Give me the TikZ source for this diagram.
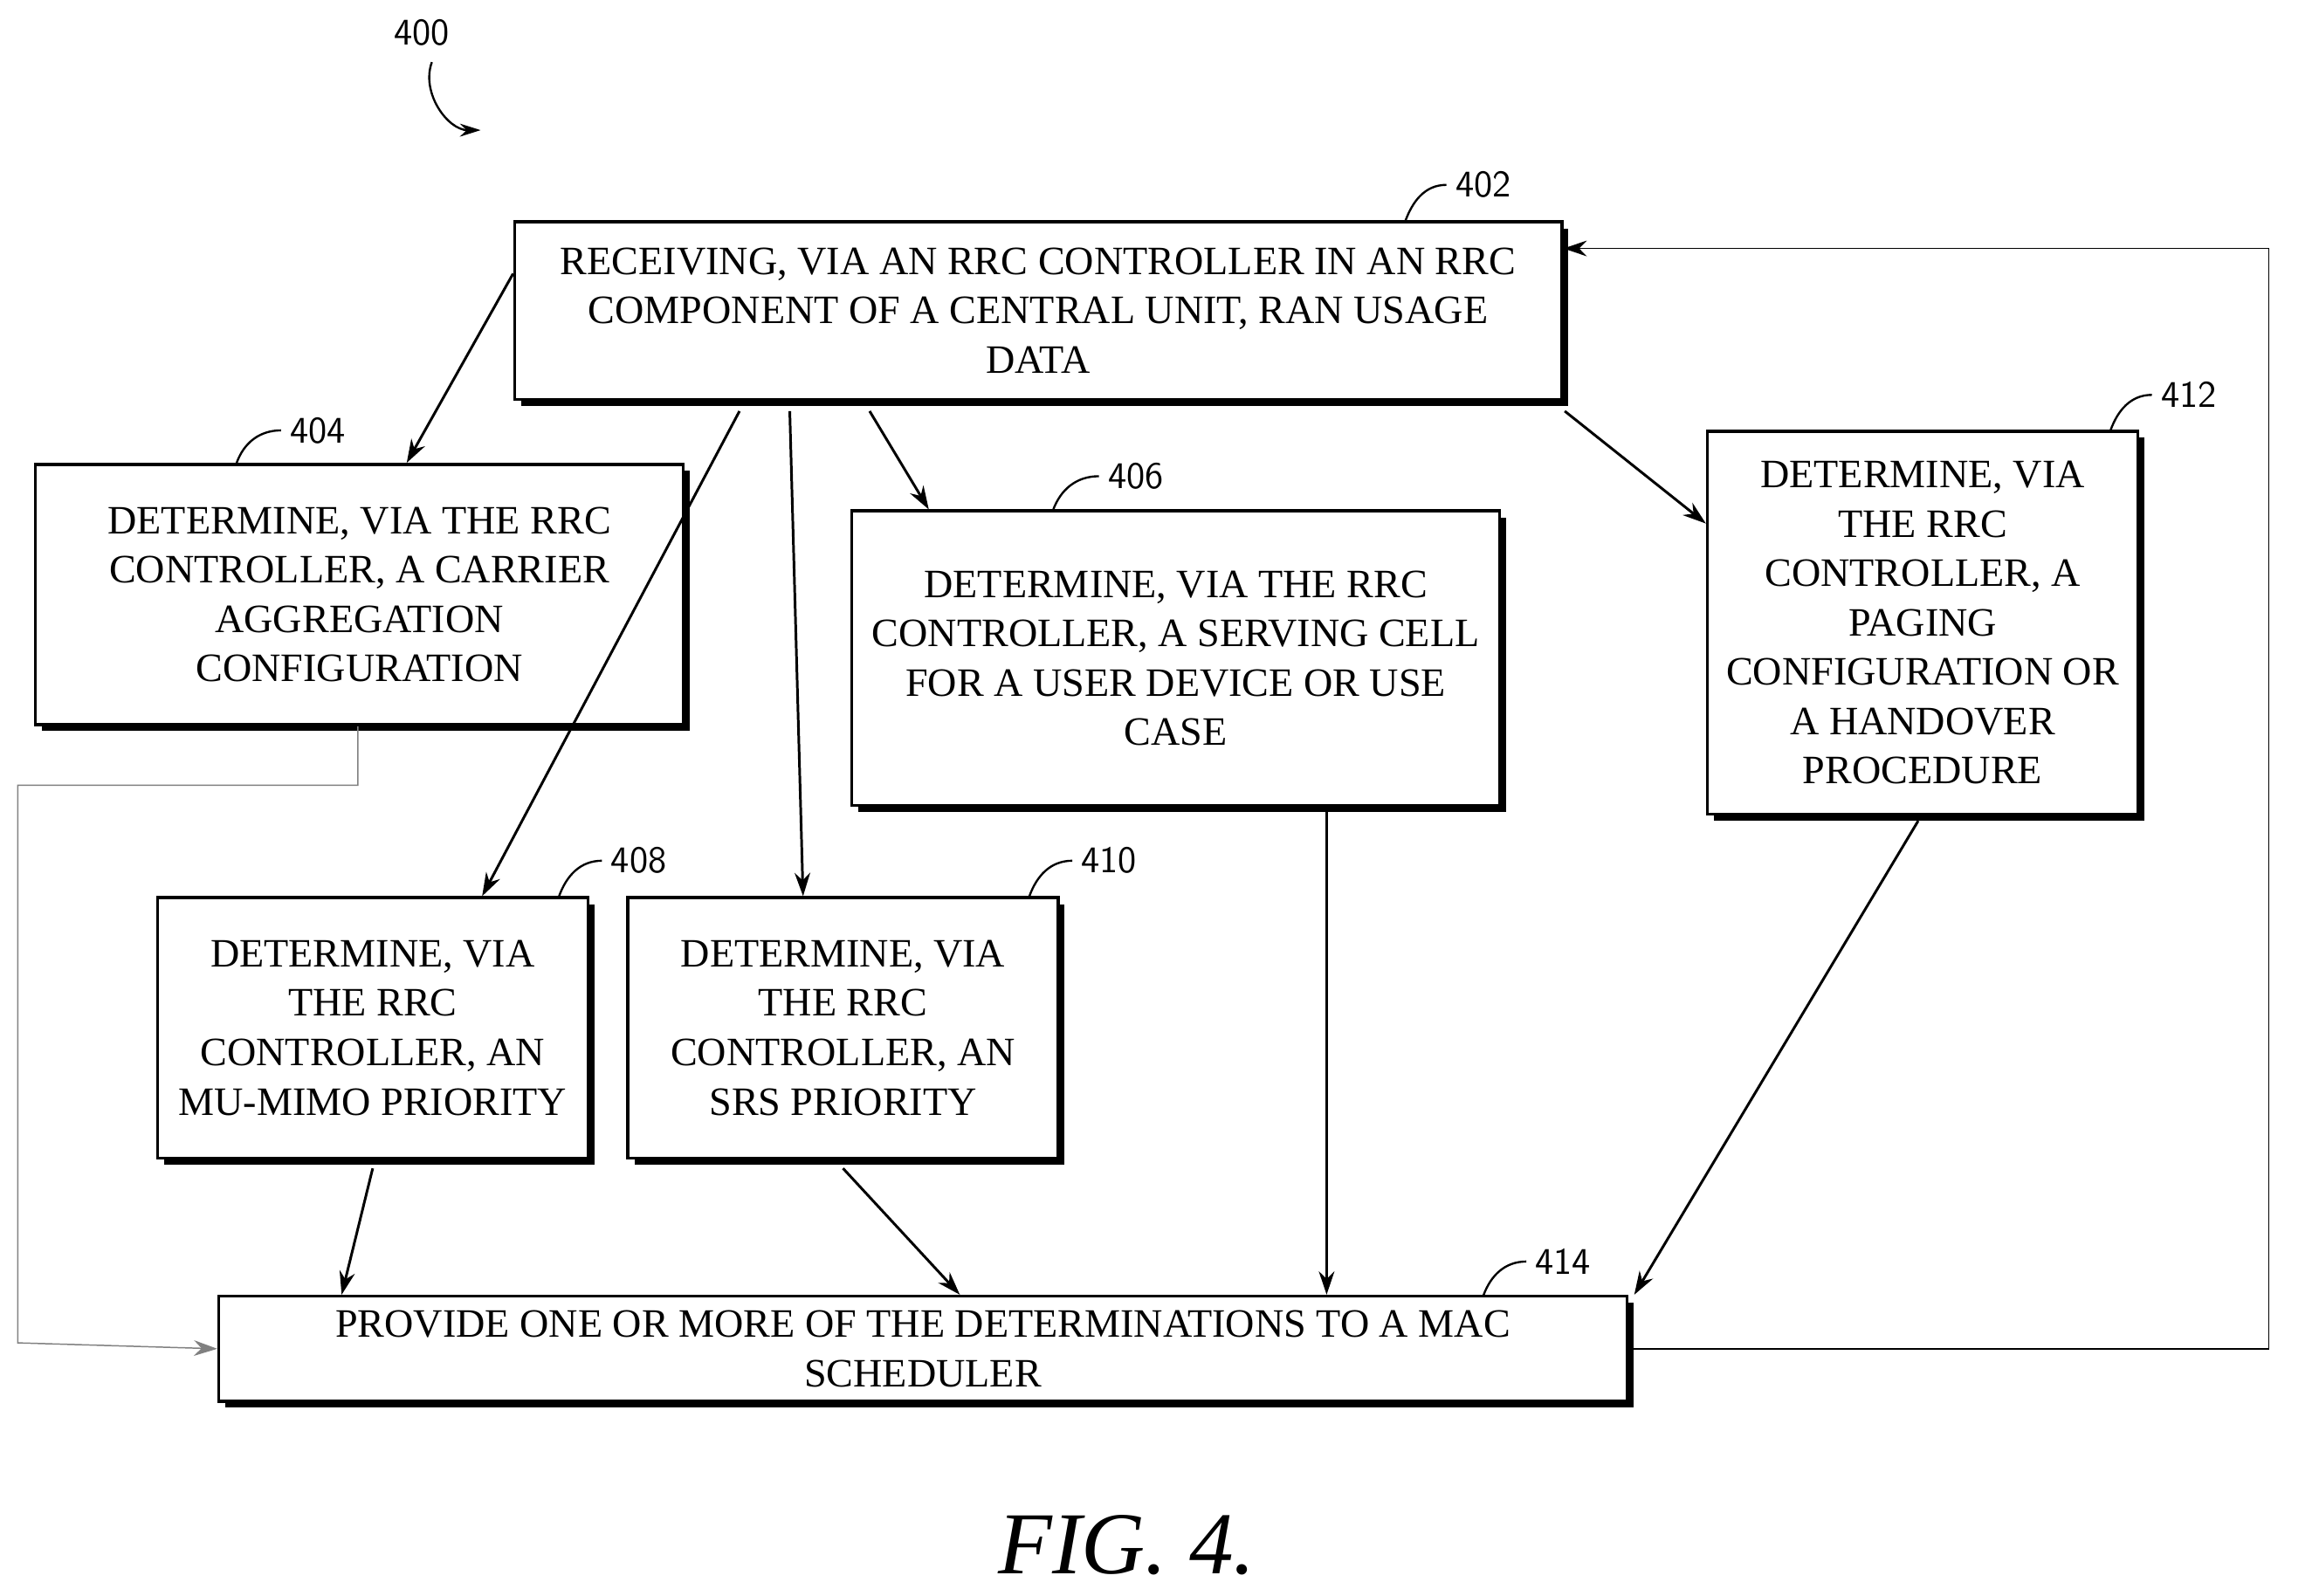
\documentclass[tikz,border=0pt]{standalone}
\usepackage{fontspec}
\setmainfont{Liberation Serif}
\usetikzlibrary{shadows,arrows.meta}

\tikzset{
  block/.style={draw, line width=1.2pt, fill=white, align=center,
    font=\fontsize{15.5}{19}\selectfont, inner sep=0pt,
    drop shadow={opacity=1, fill=black, shadow xshift=2.5pt, shadow yshift=-2.5pt}},
  flow/.style={-{Stealth[length=9pt,width=6pt]}, line width=1pt},
  back/.style={-{Stealth[length=9pt,width=6pt]}, line width=0.5pt},
  tag/.style={font=\sffamily\fontsize{14.5}{16}\selectfont},
  tick/.style={line width=0.8pt}
}

\begin{document}
\begin{tikzpicture}[x=0.02cm,y=-0.02cm]

    \useasboundingbox (0,0) rectangle (1568,1079);

    % blocks
    \node[block, minimum width=708*0.02cm, minimum height=120*0.02cm] (s402) at (702,210)
      {RECEIVING, VIA AN RRC CONTROLLER IN AN RRC\\COMPONENT OF A CENTRAL UNIT, RAN USAGE\\DATA};
    \node[block, minimum width=438*0.02cm, minimum height=176*0.02cm] (s404) at (243,402)
      {DETERMINE, VIA THE RRC\\CONTROLLER, A CARRIER\\AGGREGATION\\CONFIGURATION};
    \node[block, minimum width=438*0.02cm, minimum height=199*0.02cm] (s406) at (795,445)
      {DETERMINE, VIA THE RRC\\CONTROLLER, A SERVING CELL\\FOR A USER DEVICE OR USE\\CASE};
    \node[block, minimum width=291*0.02cm, minimum height=176*0.02cm] (s408) at (252,695)
      {DETERMINE, VIA\\THE RRC\\CONTROLLER, AN\\MU-MIMO PRIORITY};
    \node[block, minimum width=291*0.02cm, minimum height=176*0.02cm] (s410) at (570,695)
      {DETERMINE, VIA\\THE RRC\\CONTROLLER, AN\\SRS PRIORITY};
    \node[block, minimum width=291*0.02cm, minimum height=259*0.02cm] (s412) at (1300,421)
      {DETERMINE, VIA\\THE RRC\\CONTROLLER, A\\PAGING\\CONFIGURATION OR\\A HANDOVER\\PROCEDURE};
    \node[block, minimum width=952*0.02cm, minimum height=71*0.02cm] (s414) at (624,912)
      {PROVIDE ONE OR MORE OF THE DETERMINATIONS TO A MAC\\SCHEDULER};

    % reference numerals
    \node[tag] (n400) at (285,22) {400};
    \draw[tick, -{Stealth[length=8pt,width=5pt]}] (292,42) to[out=-110,in=180] (325,88);
    \node[tag, anchor=west] (n402) at (978,125) {402};
    \draw[tick] (950,150) to[out=70,in=180] (n402.west);
    \node[tag, anchor=west] (n404) at (190,291) {404};
    \draw[tick] (160,313) to[out=70,in=180] (n404.west);
    \node[tag, anchor=west] (n406) at (743,322) {406};
    \draw[tick] (712,345) to[out=70,in=180] (n406.west);
    \node[tag, anchor=west] (n408) at (407,582) {408};
    \draw[tick] (378,606) to[out=70,in=180] (n408.west);
    \node[tag, anchor=west] (n410) at (725,582) {410};
    \draw[tick] (696,606) to[out=70,in=180] (n410.west);
    \node[tag, anchor=west] (n412) at (1455,267) {412};
    \draw[tick] (1427,291) to[out=70,in=180] (n412.west);
    \node[tag, anchor=west] (n414) at (1032,853) {414};
    \draw[tick] (1003,876) to[out=70,in=180] (n414.west);

    % connectors
    \draw[flow] (s402.west |- 0,185) -- (s404.north -| 275,0);
    \draw[flow] (500,278) -- (s408.north -| 326,0);
    \draw[flow] (534,278) -- (s410.north -| 543,0);
    \draw[flow] (588,278) -- (s406.north -| 628,0);
    \draw[flow] (1058,278) -- (s412.west |- 0,354);
    \draw[flow] (s408.south |- 0,790) -- (s414.north -| 231,0);
    \draw[flow] (s410.south |- 0,790) -- (s414.north -| 649,0);
    \draw[flow] (s406.south -| 897,0) -- (s414.north -| 897,0);
    \draw[flow] (1297,555) -- (s414.north -| 1105,0);
    \draw[back, draw=gray] (s404.south -| 242,0) |- (12,531) -- (12,908) -- (s414.west |- 0,912);
    \draw[back] (s414.east |- 0,912) -| (1534,168) -- (s402.east |- 0,168);

    \node[font=\itshape\fontsize{34}{40}\selectfont] (fig) at (762,1045) {FIG.\ 4.};

\end{tikzpicture}
\end{document}
